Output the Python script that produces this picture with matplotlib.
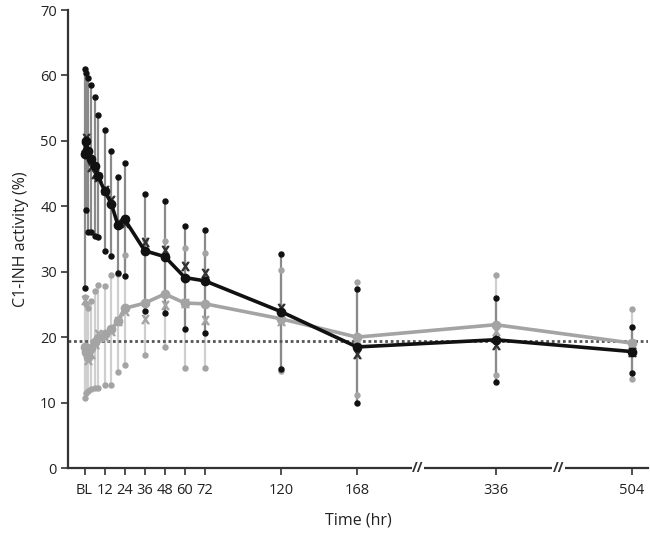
import numpy as np
import matplotlib
matplotlib.use("Agg")
import matplotlib.pyplot as plt
import matplotlib.transforms as mtransforms

# ---------------- data ----------------
times = [0, 1, 2, 4, 6, 8, 12, 16, 20, 24, 36, 48, 60, 72, 120, 168, 336, 504]

black_mean = [48.0, 50.0, 48.5, 47.2, 46.1, 44.6, 42.4, 40.4, 37.1, 38.0, 33.2, 32.3, 29.1, 28.6, 23.9, 18.5, 19.6, 17.8]
black_lo   = [27.5, 39.4, 36.1, 36.0, 35.5, 35.3, 33.1, 32.4, 29.8, 29.4, 24.0, 23.7, 21.3, 20.6, 15.1, 9.9, 13.2, 14.5]
black_hi   = [61.0, 60.4, 59.6, 58.5, 56.7, 53.9, 51.7, 48.4, 44.4, 46.6, 41.9, 40.8, 37.0, 36.3, 32.7, 27.3, 26.0, 21.5]
black_med  = [49.0, 50.5, 48.0, 46.0, 45.0, 44.5, 42.5, 41.0, 37.5, 37.5, 34.6, 33.3, 30.8, 29.8, 24.5, 17.5, 18.8, 17.8]

gray_mean = [18.5, 17.8, 17.0, 18.3, 19.3, 19.8, 20.5, 21.2, 22.5, 24.4, 25.2, 26.6, 25.2, 25.1, 22.8, 20.0, 21.9, 19.1]
gray_lo   = [10.7, 11.5, 11.8, 12.0, 12.2, 12.2, 12.7, 12.7, 14.7, 15.7, 17.3, 18.5, 15.3, 15.3, 14.8, 11.2, 14.2, 13.6]
gray_hi   = [26.2, 25.0, 24.5, 25.5, 27.0, 28.0, 27.8, 29.5, 29.7, 32.5, 34.9, 34.7, 33.6, 32.8, 30.3, 28.5, 29.5, 24.3]
gray_med  = [25.7, 18.0, 16.5, 17.5, 19.0, 20.5, 20.0, 21.0, 22.5, 24.0, 22.8, 24.9, 25.2, 22.6, 22.5, 19.5, 21.0, 19.0]

reference_level = 19.4

tick_times = [0, 12, 24, 36, 48, 60, 72, 120, 168, 336, 504]
tick_labels = ["BL", "12", "24", "36", "48", "60", "72", "120", "168", "336", "504"]
break_times = [242, 414]

# ---------------- broken time scale ----------------
knot_t = np.array([0, 72, 168, 336, 504], float)
knot_p = np.array([84.5, 205.0, 357.0, 495.5, 631.5])


def _pw(x, xs, ys):
    x = np.asarray(x, float)
    shp = x.shape
    x = np.atleast_1d(x)
    y = np.interp(x, xs, ys)
    m0 = x < xs[0]
    y[m0] = ys[0] + (x[m0] - xs[0]) * (ys[1] - ys[0]) / (xs[1] - xs[0])
    m1 = x > xs[-1]
    y[m1] = ys[-1] + (x[m1] - xs[-1]) * (ys[-1] - ys[-2]) / (xs[-1] - xs[-2])
    return y.reshape(shp)


def fwd(t):
    return _pw(t, knot_t, knot_p)


def inv(p):
    return _pw(p, knot_p, knot_t)


plt.rcParams['font.family'] = ['Liberation Sans Narrow', 'Open Sans', 'DejaVu Sans']

fig = plt.figure(figsize=(6.5, 5.36), dpi=100)
ax = fig.add_axes([68 / 650, (536 - 468) / 536, (648 - 68) / 650, (468 - 10) / 536])
ax.set_xscale('function', functions=(fwd, inv))
ax.set_xlim(float(inv(68)), float(inv(648)))
ax.set_ylim(0, 70)

BLACK = "#111111"
GRAY = "#a4a4a4"

# reference dotted line
ax.axhline(reference_level, color="#555555", lw=2.0, ls=(0, (1, 1)), zorder=2)

# gray series error bars
ax.vlines(times, gray_lo, gray_hi, color="#cfcfcf", lw=1.6, zorder=1)
ax.plot(times, gray_lo, 'o', color=GRAY, ms=3.6, zorder=3)
ax.plot(times, gray_hi, 'o', color=GRAY, ms=3.6, zorder=3)

# black series error bars
ax.vlines(times, black_lo, black_hi, color="#8a8a8a", lw=1.6, zorder=1.5)
ax.plot(times, black_lo, 'o', color=BLACK, ms=3.6, zorder=3)
ax.plot(times, black_hi, 'o', color=BLACK, ms=3.6, zorder=3)

# median markers
ax.plot(times, gray_med, ls='none', marker=r'$\mathsf{X}$', color=GRAY, ms=6, zorder=4)
ax.plot(times, black_med, ls='none', marker=r'$\mathsf{X}$', color="#333333", ms=6, zorder=6)

# mean lines
ax.plot(times, gray_mean, '-o', color=GRAY, lw=2.6, ms=6, zorder=5)
ax.plot(times, black_mean, '-o', color=BLACK, lw=2.6, ms=6, zorder=7)

# axes styling
for s in ["top", "right"]:
    ax.spines[s].set_visible(False)
for s in ["left", "bottom"]:
    ax.spines[s].set_color("#333333")
    ax.spines[s].set_linewidth(1.6)

ax.set_yticks(range(0, 71, 10))
ax.set_xticks(tick_times)
ax.set_xticklabels(tick_labels)
ax.xaxis.set_minor_locator(matplotlib.ticker.NullLocator())
ax.tick_params(axis='both', direction='out', length=5, width=1.2, color="#333333",
               labelsize=10.5, labelcolor="#222222", pad=3)
ax.tick_params(axis='x', pad=6)

ax.set_ylabel("C1-INH activity (%)", fontsize=11.5, color="#222222", labelpad=8)
ax.set_xlabel("Time (hr)", fontsize=11.5, color="#222222", labelpad=10)

# axis break marks
trans = mtransforms.blended_transform_factory(ax.transData, ax.transAxes)
for bt in break_times:
    ax.text(bt, 0.0, "//", transform=trans, ha="center", va="center",
            fontsize=10, fontweight="bold", color="#333333",
            bbox=dict(boxstyle="square,pad=0.05", fc="white", ec="none"),
            clip_on=False, zorder=10)

fig.savefig("out.png", dpi=100)
